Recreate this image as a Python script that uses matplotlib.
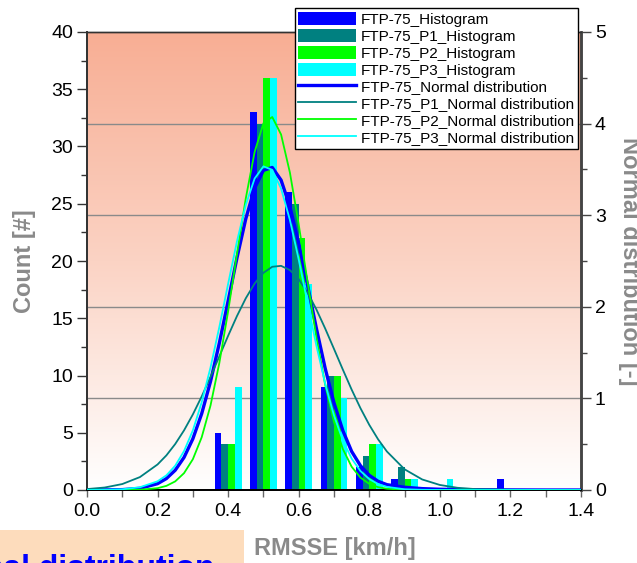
"""RMSSE histogram of the FTP-75 phases with their normal distribution fits."""

import matplotlib

matplotlib.use("Agg")
import matplotlib.pyplot as plt  # noqa: E402
import numpy as np  # noqa: E402
from matplotlib.colors import LinearSegmentedColormap  # noqa: E402
from matplotlib.patches import Rectangle  # noqa: E402
from matplotlib.ticker import FormatStrFormatter, MultipleLocator  # noqa: E402

plt.rcParams["font.family"] = ["Liberation Sans", "DejaVu Sans"]

# histogram bin centres [km/h] and counts per cycle / phase
bin_centers = [0.2, 0.3, 0.4, 0.5, 0.6, 0.7, 0.8, 0.9, 1.0, 1.1, 1.2]
count_ftp75 = [0, 0, 5, 33, 26, 9, 2, 1, 0, 0, 1]
count_p1 = [0, 0, 4, 32, 25, 10, 3, 2, 0, 0, 0]
count_p2 = [0, 0, 4, 36, 22, 10, 4, 1, 0, 0, 0]
count_p3 = [0, 0, 9, 36, 18, 8, 4, 1, 1, 0, 0]

# normal distribution curves
curve_x = [0.0, 0.05, 0.1, 0.15,
           0.2, 0.225, 0.25, 0.275, 0.3, 0.325, 0.35, 0.375, 0.4, 0.425,
           0.45, 0.475, 0.5, 0.525, 0.55, 0.575, 0.6, 0.625, 0.65, 0.675,
           0.7, 0.725, 0.75, 0.775, 0.8, 0.825, 0.85,
           0.9, 0.95, 1.0, 1.05, 1.1, 1.2, 1.3, 1.4]
pdf_ftp75 = [0.000, 0.001, 0.004, 0.018,
             0.069, 0.125, 0.216, 0.356, 0.559, 0.833, 1.184, 1.603, 2.065, 2.534,
             2.961, 3.295, 3.490, 3.521, 3.383, 3.094, 2.695, 2.236, 1.766, 1.328,
             0.951, 0.649, 0.421, 0.265, 0.160, 0.095, 0.058,
             0.030, 0.015, 0.008, 0.005, 0.003, 0.001, 0.000, 0.000]
pdf_p1 = [0.010, 0.027, 0.065, 0.141,
          0.279, 0.378, 0.502, 0.651, 0.825, 1.021, 1.235, 1.459, 1.684, 1.899,
          2.093, 2.254, 2.371, 2.437, 2.447, 2.401, 2.302, 2.155, 1.972, 1.763,
          1.540, 1.315, 1.096, 0.893, 0.711, 0.553, 0.420,
          0.226, 0.115, 0.055, 0.024, 0.010, 0.002, 0.000, 0.000]
pdf_p2 = [0.000, 0.000, 0.000, 0.003,
          0.020, 0.045, 0.094, 0.184, 0.336, 0.575, 0.922, 1.386, 1.952, 2.576,
          3.184, 3.689, 4.004, 4.072, 3.881, 3.466, 2.899, 2.273, 1.670, 1.149,
          0.741, 0.448, 0.254, 0.135, 0.067, 0.031, 0.014,
          0.002, 0.000, 0.000, 0.000, 0.000, 0.000, 0.000, 0.000]
pdf_p3 = [0.000, 0.002, 0.008, 0.030,
          0.095, 0.160, 0.265, 0.425, 0.651, 0.957, 1.337, 1.779, 2.252, 2.714,
          3.113, 3.400, 3.533, 3.495, 3.291, 2.949, 2.516, 2.042, 1.578, 1.161,
          0.813, 0.542, 0.343, 0.207, 0.119, 0.065, 0.034,
          0.008, 0.002, 0.000, 0.000, 0.000, 0.000, 0.000, 0.000]

series_names = ["FTP-75", "FTP-75_P1", "FTP-75_P2", "FTP-75_P3"]
series_colors = ["#0000ff", "#008080", "#00ff00", "#00ffff"]

LABEL_GRAY = "#8a8a8a"
BAR_WIDTH = 0.019
BAR_OFFSETS = [-0.0285, -0.0095, 0.0095, 0.0285]

fig = plt.figure(figsize=(6.37, 5.63), dpi=100)
ax = fig.add_axes([87 / 637, 1 - 490 / 563, 494 / 637, 458 / 563])
ax.set_xlim(0.0, 1.4)
ax.set_ylim(0, 40)

# salmon -> white vertical gradient behind the data
bg_cmap = LinearSegmentedColormap.from_list("bg", ["#ffffff", "#fbd3c4", "#f8ae94"])
ax.imshow(
    np.linspace(1, 0, 256).reshape(-1, 1),
    cmap=bg_cmap,
    extent=(0, 1, 0, 1),
    transform=ax.transAxes,
    aspect="auto",
    zorder=0,
)

ax2 = ax.twinx()
ax2.set_ylim(0, 5)

# grid lines follow the right-hand (distribution) axis
for level in [1, 2, 3, 4]:
    ax.axhline(level * 40 / 5, color="#8a8a8a", linewidth=1.0, zorder=1)

counts = [count_ftp75, count_p1, count_p2, count_p3]
pdfs = [pdf_ftp75, pdf_p1, pdf_p2, pdf_p3]
bar_handles = []
for name, color, offset, values in zip(series_names, series_colors, BAR_OFFSETS, counts):
    bars = ax.bar(
        np.array(bin_centers) + offset,
        values,
        width=BAR_WIDTH,
        color=color,
        linewidth=0,
        zorder=2,
        label=f"{name}_Histogram",
    )
    bar_handles.append(bars)

line_handles = []
for name, color, values in zip(series_names, series_colors, pdfs):
    width = 2.4 if name == "FTP-75" else 1.3
    (line,) = ax2.plot(
        curve_x, values, color=color, linewidth=width,
        label=f"{name}_Normal distribution", zorder=3,
    )
    line_handles.append(line)

# ticks
ax.xaxis.set_major_locator(MultipleLocator(0.2))
ax.xaxis.set_minor_locator(MultipleLocator(0.1))
ax.xaxis.set_major_formatter(FormatStrFormatter("%.1f"))
ax.yaxis.set_major_locator(MultipleLocator(5))
ax.yaxis.set_minor_locator(MultipleLocator(2.5))
ax2.yaxis.set_major_locator(MultipleLocator(1))
ax2.yaxis.set_minor_locator(MultipleLocator(0.5))

ax.tick_params(axis="y", which="major", direction="out", length=7, width=1,
               labelsize=14, pad=3, color="#333333")
ax.tick_params(axis="y", which="minor", direction="out", length=4, width=1,
               color="#333333")
ax.tick_params(axis="x", which="both", direction="out", length=5, width=1,
               labelsize=14, pad=4, color="#666666")
ax2.tick_params(axis="y", which="major", direction="out", length=7, width=1,
                labelsize=14, pad=3, color="#444444")
ax2.tick_params(axis="y", which="minor", direction="out", length=4, width=1,
                color="#444444")

for axis in (ax, ax2):
    axis.spines["left"].set_color("#333333")
    axis.spines["left"].set_linewidth(1.3)
    axis.spines["bottom"].set_color("#000000")
    axis.spines["bottom"].set_linewidth(1.3)
    axis.spines["right"].set_color("#444444")
    axis.spines["right"].set_linewidth(1.8)
    axis.spines["top"].set_color("#333333")
    axis.spines["top"].set_linewidth(1.0)

# axis titles
label_font = dict(fontsize=17, fontweight="bold", color=LABEL_GRAY)
fig.text(335 / 637, 1 - 548 / 563, "RMSSE [km/h]", ha="center", va="center", **label_font)
fig.text(25 / 637, 1 - 261 / 563, "Count [#]", rotation=90, ha="center", va="center",
         **label_font)
fig.text(630 / 637, 1 - 261 / 563, "Normal distribution [-]", rotation=270,
         ha="center", va="center", **label_font)

legend = ax2.legend(
    handles=bar_handles + line_handles,
    loc="upper right",
    bbox_to_anchor=(578 / 637, 1 - 8 / 563),
    bbox_transform=fig.transFigure,
    borderaxespad=0,
    fontsize=11,
    frameon=True,
    fancybox=False,
    framealpha=1,
    edgecolor="#000000",
    borderpad=0.25,
    labelspacing=0.12,
    handlelength=3.8,
    handleheight=1.0,
    handletextpad=0.3,
)
legend.get_frame().set_linewidth(1.0)

# banner cut off at the lower-left corner
fig.patches.append(
    Rectangle((0, 0), 244 / 637, 33 / 563, transform=fig.transFigure,
              facecolor="#fddcbc", edgecolor="none", zorder=0)
)
fig.text(214 / 637, 1 - 577 / 563, "Normal distribution", ha="right", va="baseline",
         fontsize=23, fontweight="bold", color="#0000ff")

fig.savefig("out.png", dpi=100)
